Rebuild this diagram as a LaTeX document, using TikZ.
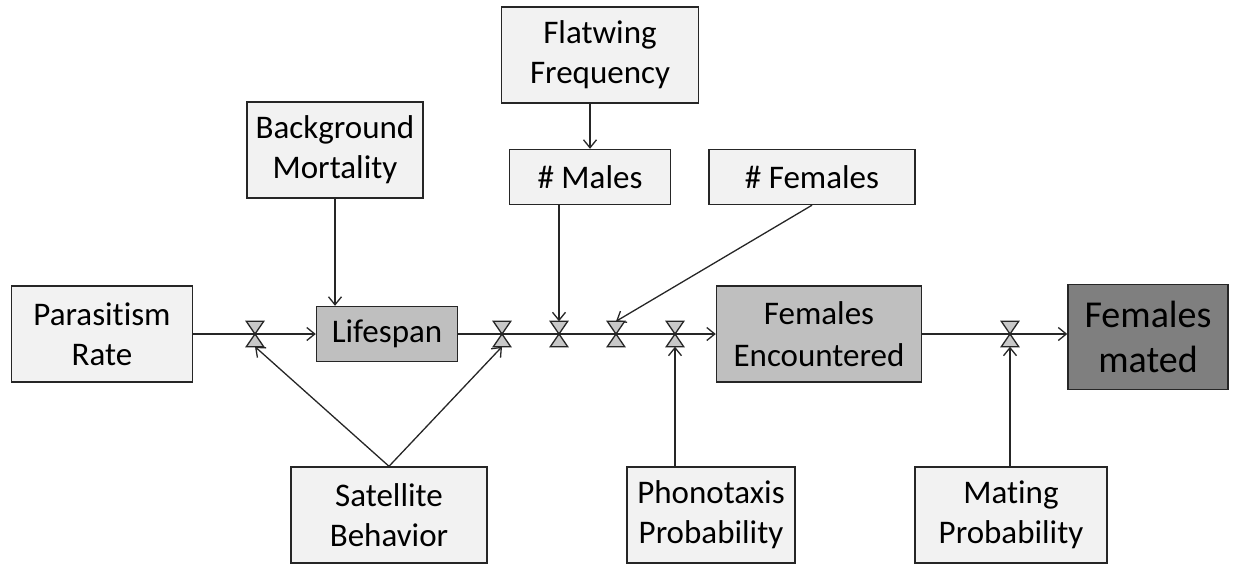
\documentclass[tikz,border=0pt]{standalone}
\usepackage{fontspec}
\setmainfont{Carlito}[Ligatures=NoCommon]
\usepackage{xcolor}
\usetikzlibrary{arrows.meta}
\definecolor{vblack}{HTML}{262626}
\definecolor{vlight}{HTML}{F2F2F2}
\definecolor{vmid}{HTML}{BFBFBF}
\definecolor{vdark}{HTML}{7F7F7F}
\definecolor{vvalve}{HTML}{C8C8C8}

\tikzset{
	box/.style = {draw = vblack, fill = vlight, line width = 1.4pt, inner sep = 0pt, align = center, font = \fontsize{33}{40}\selectfont},
	stock/.style = {box, fill = vmid, font = \fontsize{33}{42}\selectfont},
	valve/.style = {inner sep = 0pt, minimum width = 17pt, minimum height = 25pt},
	flow/.style = {draw = vblack, line width = 1.3pt, -{Straight Barb[length = 8pt, width = 13pt]}}
}

\begin{document}
\begin{tikzpicture}[x = 1pt, y = -1pt]
		\useasboundingbox (0,0) rectangle (1259,565);
		% boxes
		\node[box, minimum width = 181pt, minimum height = 96pt] (par) at (102,334) {Parasitism\\Rate};
		\node[box, minimum width = 176pt, minimum height = 96pt] (bgm) at (335,150) {Background\\Mortality};
		\node[box, minimum width = 197pt, minimum height = 96pt] (flat) at (600,55) {Flatwing\\Frequency};
		\node[box, minimum width = 161pt, minimum height = 55pt] (males) at (590,177) {\# Males};
		\node[box, minimum width = 206pt, minimum height = 55pt] (fem) at (812,177) {\# Females};
		\node[stock, minimum width = 141pt, minimum height = 55pt] (life) at (387,334) {Lifespan};
		\node[stock, minimum width = 205pt, minimum height = 96pt] (enc) at (819,334) {Females\\Encountered};
		\node[stock, fill = vdark, minimum width = 160pt, minimum height = 105pt, font = \fontsize{38}{45}\selectfont] (mated) at (1148,337) {Females\\mated};
		\node[box, minimum width = 196pt, minimum height = 96pt] (sat) at (389,515) {Satellite\\Behavior};
		\node[box, minimum width = 168pt, minimum height = 96pt] (phono) at (711,515) {Phonotaxis\\Probability};
		\node[box, minimum width = 192pt, minimum height = 96pt] (mating) at (1011,515) {Mating\\Probability};
		% valves
		\node[valve] (v1) at (255,334) {};
		\node[valve] (v2) at (502,334) {};
		\node[valve] (v3) at (559,334) {};
		\node[valve] (v4) at (616,334) {};
		\node[valve] (v5) at (675,334) {};
		\node[valve] (v6) at (1010,334) {};
		% flows
		\draw[flow] (par.east) -- (life.west);
		\draw[flow] (life.east) -- (enc.west);
		\draw[flow] (enc.east) -- (enc.east -| mated.west);
		\draw[flow] (bgm.south) -- (bgm.south |- life.north);
		\draw[flow] (flat.south -| males.north) -- (males.north);
		\draw[flow] (males.south -| v3) -- (v3.north);
		\draw[flow] (fem.south) -- (v4.north);
		\draw[flow] (sat.north) -- (v1.south);
		\draw[flow] (sat.north) -- (v2.south);
		\draw[flow] (phono.north -| v5) -- (v5.south);
		\draw[flow] (mating.north -| v6) -- (v6.south);
		\foreach \v in {v1,v2,v3,v4,v5,v6}
			\draw[draw = vblack, fill = vvalve, line width = 1.3pt] (\v.north west) -- (\v.north east) -- (\v.south west) -- (\v.south east) -- cycle;
	\end{tikzpicture}
\end{document}
